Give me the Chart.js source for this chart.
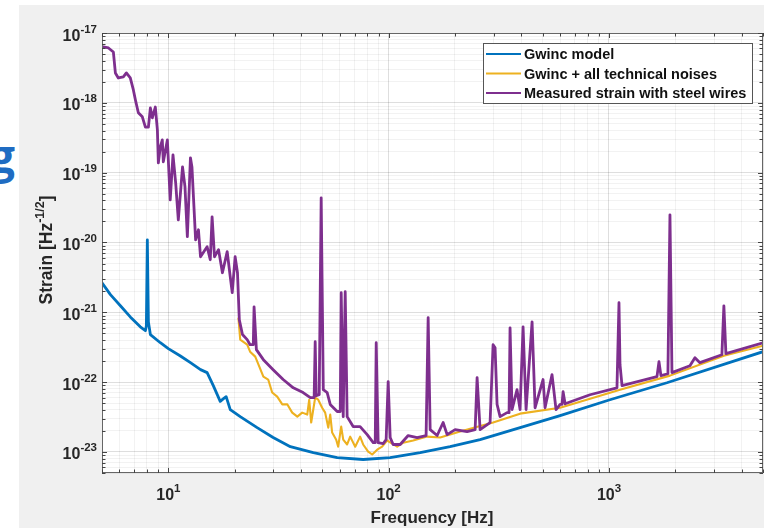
<!DOCTYPE html>
<html>
<head>
<meta charset="utf-8">
<script src="https://cdn.jsdelivr.net/npm/chart.js@4.4.1/dist/chart.umd.min.js"></script>
<style>
  html, body { margin: 0; padding: 0; background: #fff; }
  #wrap { position: relative; width: 764px; height: 528px; overflow: hidden; }
  #panel { position: absolute; left: 19px; top: 5px; right: 0; bottom: 0; background: #f0f0f0; }
  #g { position: absolute; left: -11px; top: 124px; font: bold 46px "Open Sans", sans-serif; color: #1f6cc2; }
  canvas { position: absolute; left: 0; top: 0; }
</style>
</head>
<body>
<div id="wrap">
  <div id="panel"></div>
  <div id="g">g</div>
  <canvas id="c" width="764" height="528"></canvas>
</div>
<script>
/* ---- data: frequency [Hz] and strain [Hz^-1/2] ---- */
const X_MIN = 5, X_MAX = 5000, Y_MIN = 5e-24, Y_MAX = 1e-17;
const X_TICK_EXP = [1, 2, 3];
const Y_TICK_EXP = [-23, -22, -21, -20, -19, -18, -17];
const SERIES_NAMES = ['Gwinc model', 'Gwinc + all technical noises', 'Measured strain with steel wires'];

// Gwinc model (blue)
const FREQ_MODEL = [5.0, 5.46, 6.06, 6.72, 7.46, 7.87, 7.95, 8.03, 8.12, 8.29, 9.2, 10, 11.3, 12.6, 14.0, 15.0,
  16.0, 17.2, 17.8, 18.3, 19.1, 21.2, 25.3, 29.9, 35.8, 45.5, 58.4, 76.6, 101.6, 139, 190, 260, 395, 600, 1010, 1832, 5000];
const STRAIN_MODEL = [2.65e-21, 1.79e-21, 1.24e-21, 8.6e-22, 6.2e-22, 5.45e-22, 6.4e-22, 1.09e-20, 7.3e-22, 4.8e-22,
  3.67e-22, 3.02e-22, 2.39e-22, 1.9e-22, 1.51e-22, 1.37e-22, 8.9e-23, 5.3e-23, 5.8e-23, 6.2e-23, 4.05e-23, 3.21e-23,
  2.23e-23, 1.61e-23, 1.19e-23, 9.8e-24, 8.3e-24, 7.8e-24, 8.3e-24, 9.8e-24, 1.19e-23, 1.5e-23, 2.23e-23, 3.32e-23,
  5.6e-23, 9.8e-23, 2.73e-22];

// Gwinc + all technical noises (yellow)
const FREQ_TECH = [20.8, 21.2, 22.8, 23.5, 24.8, 26.1, 27.0, 28.4, 29.6, 31.2, 32.9, 34.7, 36.5, 38.5, 40.5, 42.7,
  43.6, 44.5, 46.4, 47.9, 49.9, 51.5, 53.2, 54.3, 55.4, 57.8, 59.0, 60.9, 62.2, 64.8, 66.9, 70.5, 74.2, 76.6, 80.7,
  84.2, 88.7, 93.4, 98.4, 109.3, 116.4, 129.2, 149.5, 171.3, 211, 297.8, 394.8, 600, 1122, 1891, 3322, 5000];
const STRAIN_TECH = [8.4e-22, 4.06e-22, 3.44e-22, 2.73e-22, 2.32e-22, 1.56e-22, 1.2e-22, 1.09e-22, 7.1e-23, 6.2e-23,
  4.8e-23, 4.8e-23, 3.66e-23, 3.21e-23, 3.66e-23, 3.43e-23, 5.6e-23, 2.64e-23, 6.0e-23, 5.6e-23, 4.3e-23, 3.66e-23,
  2.23e-23, 3.43e-23, 1.9e-23, 1.5e-23, 1.19e-23, 2.31e-23, 1.5e-23, 1.28e-23, 1.66e-23, 1.19e-23, 1.66e-23, 1.28e-23,
  1.01e-23, 9.2e-24, 1.08e-23, 1.19e-23, 1.46e-23, 1.19e-23, 1.36e-23, 1.46e-23, 1.66e-23, 1.61e-23, 1.96e-23,
  2.64e-23, 3.54e-23, 4.3e-23, 7.8e-23, 1.24e-22, 2.39e-22, 3.33e-22];

// Measured strain with steel wires (purple)
const FREQ_MEAS = [5.0, 5.35, 5.63, 5.75, 5.93, 6.25, 6.45, 6.72, 6.94, 7.09, 7.31, 7.62, 7.87, 8.12, 8.29, 8.46,
  8.73, 8.92, 9.01, 9.2, 9.39, 9.49, 9.9, 10.2, 10.5, 10.8, 11.1, 11.6, 11.9, 12.2, 12.6, 12.8, 13.3, 13.7, 14.0,
  15.0, 15.5, 15.8, 16.2, 16.9, 17.6, 18.5, 19.1, 19.5, 20.1, 20.6, 21.0, 21.7, 22.8, 23.5, 24.3, 24.5, 25.1, 27.0,
  29.9, 33.2, 36.9, 40.9, 44.1, 45.9, 46.4, 46.9, 48.4, 49.4, 50.5, 52.6, 54.3, 58.4, 60.3, 60.9, 62.2, 63.5, 64.8,
  69.0, 74.2, 79.9, 85.1, 86.9, 87.8, 89.6, 94.4, 97.4, 99.5, 101.6, 104.8, 112.8, 122.6, 134.7, 147.9, 151.1, 154.3,
  166, 176.7, 184.2, 200.3, 227, 246.9, 252, 260, 288.6, 297.8, 304.1, 310.5, 320.4, 344.6, 352, 355.6, 363, 382.5,
  394.8, 407.4, 420.4, 447.6, 461.8, 502, 512.6, 551.4, 575, 600, 612, 619, 632, 820, 1087, 1110, 1122, 1146, 1651,
  1686, 1721, 1851, 1891, 1931, 2330, 2455, 2586, 3254, 3322, 3393, 5000];
const STRAIN_MEAS = [6.4e-18, 6.1e-18, 5.35e-18, 2.68e-18, 2.27e-18, 2.35e-18, 2.68e-18, 2.27e-18, 1.53e-18, 1.1e-18,
  7.2e-19, 6.3e-19, 4.5e-19, 4.5e-19, 8.45e-19, 6.1e-19, 8.7e-19, 4.1e-19, 1.38e-19, 2.34e-19, 2.94e-19, 1.43e-19,
  2.94e-19, 4.08e-20, 1.8e-19, 7.1e-20, 2.11e-20, 1.21e-19, 6.3e-20, 1.21e-20, 1.63e-19, 1.21e-19, 1.09e-20, 1.52e-20,
  6.25e-21, 8.7e-21, 5.66e-21, 2.33e-20, 6.25e-21, 7.9e-21, 3.69e-21, 7.4e-21, 3.23e-21, 1.91e-21, 6.25e-21, 3.69e-21,
  7.8e-22, 4.8e-22, 4.06e-22, 3.44e-22, 3.44e-22, 1.2e-21, 2.92e-22, 2.1e-22, 1.51e-22, 1.09e-22, 8.3e-23, 7.1e-23,
  6.0e-23, 6.0e-23, 3.8e-22, 6.4e-23, 6.6e-23, 4.36e-20, 7.8e-23, 7.1e-23, 4.8e-23, 3.8e-23, 3.8e-23, 1.91e-21,
  3.21e-23, 1.97e-21, 3.21e-23, 2.31e-23, 2.31e-23, 1.77e-23, 1.36e-23, 1.36e-23, 3.67e-22, 1.36e-23, 1.32e-23,
  1.5e-23, 1.02e-22, 1.61e-23, 1.28e-23, 1.28e-23, 1.72e-23, 1.61e-23, 1.72e-23, 8.4e-22, 2.09e-23, 1.72e-23,
  2.64e-23, 1.77e-23, 2.09e-23, 1.96e-23, 2.09e-23, 1.16e-22, 2.09e-23, 2.64e-23, 3.44e-22, 3.1e-22, 4.8e-23,
  3.21e-23, 3.66e-23, 3.66e-23, 6.0e-22, 4.05e-23, 7.8e-23, 4.05e-23, 6.2e-22, 4.05e-23, 7.3e-22, 4.3e-23, 1.09e-22,
  4.3e-23, 1.28e-22, 4.05e-23, 4.8e-23, 4.8e-23, 7.3e-23, 4.9e-23, 6.6e-23, 8.3e-23, 1.37e-21, 1.78e-22, 8.9e-23,
  1.2e-22, 1.96e-22, 1.24e-22, 1.32e-22, 2.49e-20, 1.37e-22, 1.72e-22, 2.24e-22, 1.9e-22, 2.47e-22, 1.24e-21,
  2.56e-22, 3.67e-22];

(function () {
  'use strict';
  const $ = (id) => document.getElementById(id);
  const BLUE = '#0072BD', YELLOW = '#EDB120', PURPLE = '#7E2F8E';
  const FONT = '"Liberation Sans", Arial, sans-serif';
  const INK = '#262626';
  const pts = (xs, ys) => xs.map((x, i) => ({ x, y: ys[i] }));

  // 1..9 x 10^n inside [lo, hi]; the 1s are major (grid + labels)
  function decadeTicks(lo, hi) {
    const t = [];
    for (let e = Math.floor(Math.log10(lo)); e <= Math.ceil(Math.log10(hi)); e++) {
      for (let m = 1; m < 10; m++) {
        const v = m * Math.pow(10, e);
        if (v >= lo * 0.999 && v <= hi * 1.001) t.push({ value: v, major: m === 1 });
      }
    }
    return t;
  }
  const gridColor = (c) => (c.tick && c.tick.major) ? 'rgba(0,0,0,0.13)' : 'rgba(0,0,0,0.05)';

  // "10" with a superscript exponent
  function pow10(ctx, exp, x, y, align) {
    ctx.font = 'bold 16px ' + FONT; const wb = ctx.measureText('10').width;
    ctx.font = 'bold 11.5px ' + FONT; const ws = ctx.measureText(exp).width;
    const x0 = align === 'right' ? x - wb - ws : x - (wb + ws) / 2;
    ctx.font = 'bold 16px ' + FONT; ctx.fillText('10', x0, y);
    ctx.font = 'bold 11.5px ' + FONT; ctx.fillText(exp, x0 + wb, y - 8);
  }

  /* -------------------- axes box, ticks, labels, legend -------------------- */
  const decor = {
    id: 'decor',
    beforeDraw(chart) {
      const { ctx, chartArea: a } = chart;
      ctx.save();
      ctx.fillStyle = '#fff';
      ctx.fillRect(a.left, a.top, a.right - a.left, a.bottom - a.top);
      ctx.restore();
    },
    afterDraw(chart) {
      const { ctx, chartArea: a, scales: { x, y } } = chart;
      ctx.save();
      // box
      ctx.strokeStyle = '#666'; ctx.lineWidth = 1;
      ctx.strokeRect(a.left + 0.5, a.top + 0.5, a.right - a.left - 1, a.bottom - a.top - 1);
      // inward ticks on all four sides
      ctx.strokeStyle = '#444';
      ctx.beginPath();
      x.ticks.forEach(t => {
        const px = Math.round(x.getPixelForValue(t.value)) + 0.5, L = t.major ? 5 : 3.5;
        ctx.moveTo(px, a.bottom); ctx.lineTo(px, a.bottom - L);
        ctx.moveTo(px, a.top); ctx.lineTo(px, a.top + L);
      });
      y.ticks.forEach(t => {
        const py = Math.round(y.getPixelForValue(t.value)) + 0.5, L = t.major ? 5 : 3.5;
        ctx.moveTo(a.left, py); ctx.lineTo(a.left + L, py);
        ctx.moveTo(a.right, py); ctx.lineTo(a.right - L, py);
      });
      ctx.stroke();

      // tick labels
      ctx.fillStyle = INK; ctx.textBaseline = 'alphabetic'; ctx.textAlign = 'left';
      Y_TICK_EXP.forEach(e => pow10(ctx, String(e), 97, y.getPixelForValue(Math.pow(10, e)) + 7.5, 'right'));
      X_TICK_EXP.forEach(e => pow10(ctx, String(e), x.getPixelForValue(Math.pow(10, e)), 500, 'center'));

      // axis titles
      ctx.font = 'bold 17px ' + FONT; ctx.textAlign = 'center';
      ctx.fillText('Frequency [Hz]', 432, 523);
      ctx.save();
      ctx.translate(52, 250); ctx.rotate(-Math.PI / 2);
      ctx.textAlign = 'left';
      const b1 = 'Strain [Hz', sup = '-1/2', b2 = ']';
      ctx.font = 'bold 17.5px ' + FONT; const w1 = ctx.measureText(b1).width, w3 = ctx.measureText(b2).width;
      ctx.font = 'bold 12.5px ' + FONT; const w2 = ctx.measureText(sup).width;
      let sx = -(w1 + w2 + w3) / 2;
      ctx.font = 'bold 17.5px ' + FONT; ctx.fillText(b1, sx, 0); sx += w1;
      ctx.font = 'bold 12.5px ' + FONT; ctx.fillText(sup, sx, -8); sx += w2;
      ctx.font = 'bold 17.5px ' + FONT; ctx.fillText(b2, sx, 0);
      ctx.restore();

      // legend
      ctx.fillStyle = '#fff'; ctx.strokeStyle = '#555'; ctx.lineWidth = 1;
      ctx.fillRect(483.5, 43.5, 269, 60); ctx.strokeRect(483.5, 43.5, 269, 60);
      const rows = [54, 73.5, 93], cols = [BLUE, YELLOW, PURPLE];
      ctx.font = 'bold 14.5px ' + FONT; ctx.textBaseline = 'middle'; ctx.textAlign = 'left';
      SERIES_NAMES.forEach((name, i) => {
        ctx.strokeStyle = cols[i]; ctx.lineWidth = 2;
        ctx.beginPath(); ctx.moveTo(486, rows[i]); ctx.lineTo(521, rows[i]); ctx.stroke();
        ctx.fillStyle = '#111'; ctx.fillText(name, 524, rows[i] + 1);
      });
      ctx.restore();
    }
  };

  const line = (label, data, color, width, order) => ({
    label, data, borderColor: color, backgroundColor: color, borderWidth: width, order,
    showLine: true, pointRadius: 0, fill: false, tension: 0, borderJoinStyle: 'round'
  });

  new Chart($('c'), {
    type: 'scatter',
    data: {
      datasets: [
        line(SERIES_NAMES[2], pts(FREQ_MEAS, STRAIN_MEAS), PURPLE, 2.8, 0),
        line(SERIES_NAMES[1], pts(FREQ_TECH, STRAIN_TECH), YELLOW, 2.1, 1),
        line(SERIES_NAMES[0], pts(FREQ_MODEL, STRAIN_MODEL), BLUE, 2.8, 2)
      ]
    },
    options: {
      responsive: false, animation: false, devicePixelRatio: 1,
      layout: { padding: { top: 33, right: 1, left: 0, bottom: 0 } },
      plugins: { legend: { display: false }, tooltip: { enabled: false } },
      scales: {
        x: {
          type: 'logarithmic', min: X_MIN, max: X_MAX,
          afterBuildTicks: s => { s.ticks = decadeTicks(s.min, s.max); },
          afterFit: s => { s.height = 55; },
          ticks: { display: false }, grid: { color: gridColor, drawTicks: false }, border: { display: false }
        },
        y: {
          type: 'logarithmic', min: Y_MIN, max: Y_MAX,
          afterBuildTicks: s => { s.ticks = decadeTicks(s.min, s.max); },
          afterFit: s => { s.width = 102; },
          ticks: { display: false }, grid: { color: gridColor, drawTicks: false }, border: { display: false }
        }
      }
    },
    plugins: [decor]
  });
})();
</script>
</body>
</html>
